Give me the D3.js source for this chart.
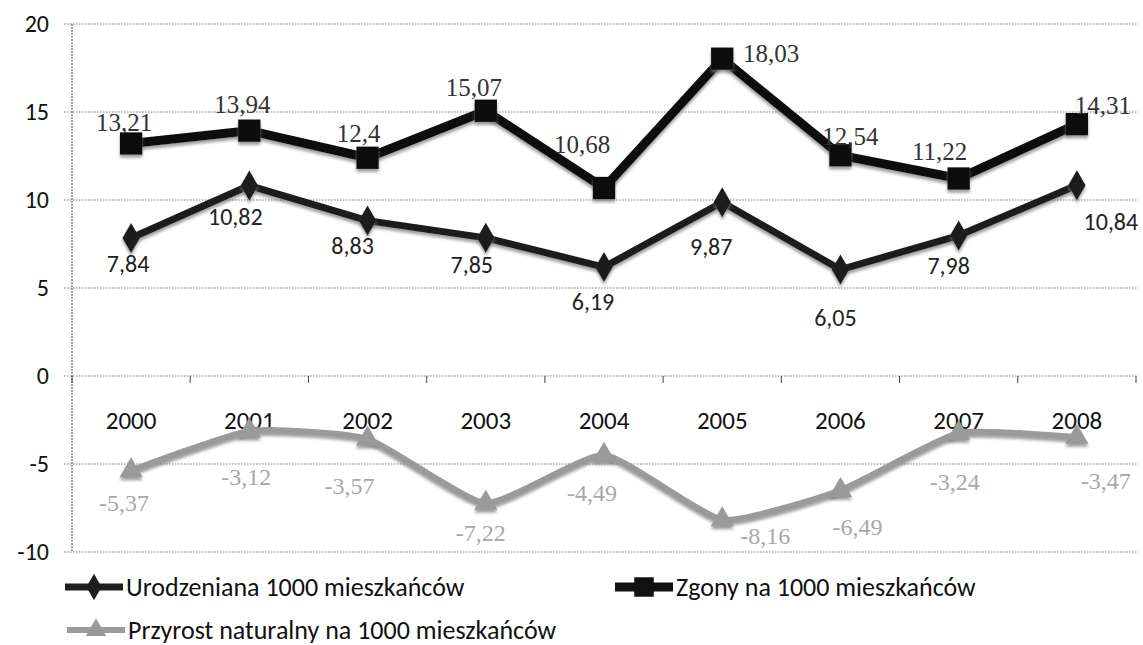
<!DOCTYPE html>
<html><head><meta charset="utf-8">
<script src="https://cdn.jsdelivr.net/npm/d3@7/dist/d3.min.js"></script>
<style>body{margin:0;background:#fff} svg{display:block}</style>
</head><body><svg id="c" width="1143" height="645"></svg>
<script>
// ---- data ----
const years = ["2000","2001","2002","2003","2004","2005","2006","2007","2008"];
const urodzenia = [7.84,10.82,8.83,7.85,6.19,9.87,6.05,7.98,10.84];
const zgony = [13.21,13.94,12.4,15.07,10.68,18.03,12.54,11.22,14.31];
const przyrost = [-5.37,-3.12,-3.57,-7.22,-4.49,-8.16,-6.49,-3.24,-3.47];
const yTicks = [-10,-5,0,5,10,15,20];
const seriesNames = ["Urodzeniana 1000 mieszkańców","Zgony na 1000 mieszkańców","Przyrost naturalny na 1000 mieszkańców"];

// ---- label placement (offsets of the label centre from its point, px) ----
const zgonyLabelOff = [[-7,-21],[-7,-26],[-9,-24],[-12,-23],[-22,-44],[49,-5],[10,-19],[-19,-27],[26,-19]];
const urodzeniaLabelOff = [[-3,25],[-14,31],[-15,25],[-14,27],[-11,34],[-11,44],[-5,48],[-10,30],[34,36]];
const przyrostLabelOff = [[-7,32],[-3,46],[-18,47],[-5,30],[-12,38],[43,16],[17,37],[-4,49],[29,44]];

const sans = "Carlito, Lato, 'Open Sans', sans-serif";
const serif = "'Liberation Serif', 'DejaVu Serif', serif";

const svg = d3.select("#c");
const x = d3.scaleBand().domain(years).range([72, 1136]);
const cx = d => x(d) + x.bandwidth() / 2;
const y = d3.scaleLinear().domain([-10, 20]).range([552, 24]);

const defs = svg.append("defs");
const f = defs.append("filter").attr("id","sh").attr("x","-50%").attr("y","-50%").attr("width","200%").attr("height","200%");
f.append("feDropShadow").attr("dx",0).attr("dy",3).attr("stdDeviation",1.6)
  .attr("flood-color","#777").attr("flood-opacity",0.7);

// gridlines
svg.append("g").selectAll("line").data(yTicks).join("line")
  .attr("x1", 64).attr("x2", x.range()[1] + 1)
  .attr("y1", d => y(d)).attr("y2", d => y(d))
  .attr("stroke", "#777").attr("stroke-width", 1).attr("stroke-dasharray", "1.5,1.5");

// y axis line
svg.append("line").attr("x1", 72).attr("x2", 72).attr("y1", y(20)).attr("y2", y(-10))
  .attr("stroke", "#666").attr("stroke-width", 1.2).attr("stroke-dasharray", "2,1");

// y labels
const ya = svg.append("g").attr("transform","translate(72,0)")
  .call(d3.axisLeft(y).tickValues(yTicks).tickSize(0).tickPadding(23).tickFormat(d => d));
ya.select(".domain").remove();
ya.selectAll("text").attr("font-family", sans).attr("font-size", 24).attr("fill", "#111");

// category axis at zero with boundary ticks
const bounds = years.map(d => x(d)).concat([x.range()[1]]);
svg.append("g").selectAll("line").data(bounds).join("line")
  .attr("x1", d => d).attr("x2", d => d).attr("y1", y(0)).attr("y2", y(0) + 7)
  .attr("stroke", "#444").attr("stroke-width", 1);
const xa = svg.append("g").attr("transform", `translate(0,${y(0)})`)
  .call(d3.axisBottom(x).tickSize(0).tickPadding(35));
xa.select(".domain").remove();
xa.selectAll("text").attr("font-family", sans).attr("font-size", 25).attr("fill", "#111");

const fmt = v => String(v).replace(".", ",");

function drawSeries(vals, opts) {
  const pts = years.map((d, i) => ({x: cx(d), y: y(vals[i]), v: vals[i], i}));
  const g = svg.append("g");
  g.append("path").datum(pts)
    .attr("d", d3.line().x(p => p.x).y(p => p.y).curve(opts.curve || d3.curveLinear))
    .attr("fill", "none").attr("stroke", opts.color).attr("stroke-width", opts.lw)
    .attr("stroke-linejoin", "round").attr("filter", "url(#sh)");
  g.selectAll("path.m").data(pts).join("path").attr("class","m")
    .attr("transform", p => `translate(${p.x},${p.y})`)
    .attr("d", d3.symbol().type(opts.symbol).size(opts.size))
    .attr("fill", opts.color).attr("filter", "url(#sh)");
  g.selectAll("text").data(pts).join("text")
    .attr("x", p => p.x + opts.off[p.i][0]).attr("y", p => p.y + opts.off[p.i][1])
    .attr("text-anchor", "middle").attr("dominant-baseline", "central")
    .attr("font-family", opts.font).attr("font-size", opts.fs).attr("fill", opts.tcolor)
    .text(p => fmt(p.v));
}

drawSeries(przyrost, {color:"#9a9a9a", lw:6, symbol:d3.symbolTriangle, size:230, curve:d3.curveCardinal.tension(0.5),
  off:przyrostLabelOff, font:serif, fs:24, tcolor:"#a8a8a8"});
drawSeries(urodzenia, {color:"#1e1e1e", lw:7, symbol:d3.symbolDiamond, size:260,
  off:urodzeniaLabelOff, font:sans, fs:24, tcolor:"#222"});
drawSeries(zgony, {color:"#111", lw:9, symbol:d3.symbolSquare, size:500,
  off:zgonyLabelOff, font:serif, fs:25, tcolor:"#333"});

// legend
const leg = [
  {name: seriesNames[0], color:"#1e1e1e", lw:7, symbol:d3.symbolDiamond, size:200, x:65, y:587},
  {name: seriesNames[1], color:"#111", lw:9, symbol:d3.symbolSquare, size:380, x:615, y:587},
  {name: seriesNames[2], color:"#9a9a9a", lw:6, symbol:d3.symbolTriangle, size:180, x:67, y:630}
];
const lg = svg.append("g").selectAll("g").data(leg).join("g")
  .attr("transform", d => `translate(${d.x},${d.y})`);
lg.append("line").attr("x1", 0).attr("x2", 58).attr("y1", 0).attr("y2", 0)
  .attr("stroke", d => d.color).attr("stroke-width", d => d.lw);
lg.append("path").attr("transform", "translate(29,0)")
  .attr("d", d => d3.symbol().type(d.symbol).size(d.size)())
  .attr("fill", d => d.color);
lg.append("text").attr("x", 61).attr("y", 0).attr("dominant-baseline", "central")
  .attr("font-family", sans).attr("font-size", 26).attr("fill", "#111")
  .text(d => d.name);
</script></body></html>
